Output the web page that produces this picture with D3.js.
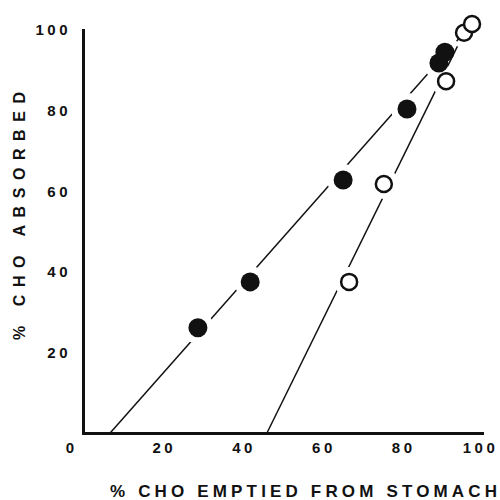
<!DOCTYPE html>
<html>
<head>
<meta charset="utf-8">
<script src="https://cdn.jsdelivr.net/npm/d3@7"></script>
<style>
  body { margin: 0; background: #fff; }
  svg { display: block; }
  text { font-family: "Liberation Sans", Arial, sans-serif; font-weight: bold; fill: #111; }
</style>
</head>
<body>
<svg id="chart" width="500" height="500"></svg>
<script>
// filled circles (upper line)
let filledX = [28.8, 41.9, 65.2, 81.2, 89.2, 90.7];
let filledY = [26.1, 37.5, 62.8, 80.4, 91.8, 94.5];

// open circles (lower line)
let openX = [66.7, 75.4, 91.0, 95.5, 97.5];
let openY = [37.5, 61.8, 87.3, 99.3, 101.5];

// fitted lines, start and end
let lineFilled = [[6.8, 0], [95.5, 99.3]];
let lineOpen = [[46.1, 0], [95.5, 99.3]];

let tickVals = [20, 40, 60, 80, 100];

let svg = d3.select("#chart");

let canvas = {
  "left": 83,
  "right": 482,
  "top": 30,
  "bottom": 433
};

let xScale = d3.scaleLinear().domain([0, 100]).range([canvas.left, canvas.right]);
let yScale = d3.scaleLinear().domain([0, 100]).range([canvas.bottom, canvas.top]);

let filled = filledX.map((d, i) => ({x: d, y: filledY[i]}));
let open = openX.map((d, i) => ({x: d, y: openY[i]}));

// masks so each line breaks around its own points
let defs = svg.append("defs");
function makeMask(id, pts, r) {
  let m = defs.append("mask").attr("id", id).attr("maskUnits", "userSpaceOnUse")
    .attr("x", 0).attr("y", 0).attr("width", 500).attr("height", 500);
  m.append("rect").attr("width", 500).attr("height", 500).attr("fill", "white");
  m.selectAll("circle").data(pts).join("circle")
    .attr("cx", d => xScale(d.x))
    .attr("cy", d => yScale(d.y))
    .attr("r", r)
    .attr("fill", "black");
}
makeMask("mask-filled", filled, 16);
makeMask("mask-open", open, 15);

let line = d3.line().x(d => xScale(d[0])).y(d => yScale(d[1]));

svg.append("path")
  .attr("d", line(lineFilled))
  .attr("fill", "none")
  .attr("stroke", "#111")
  .attr("stroke-width", 1.5)
  .attr("mask", "url(#mask-filled)");

svg.append("path")
  .attr("d", line(lineOpen))
  .attr("fill", "none")
  .attr("stroke", "#111")
  .attr("stroke-width", 1.5)
  .attr("mask", "url(#mask-open)");

// axes
let xAxis = d3.axisBottom(xScale).tickValues(tickVals).tickSize(0).tickSizeOuter(0).tickPadding(9);
let gx = svg.append("g")
  .attr("transform", `translate(0, ${canvas.bottom})`)
  .call(xAxis);

let yAxis = d3.axisLeft(yScale).tickValues(tickVals).tickSize(0).tickSizeOuter(0).tickPadding(12);
let gy = svg.append("g")
  .attr("transform", `translate(${canvas.left}, 0)`)
  .call(yAxis);

[gx, gy].forEach(g => {
  g.select(".domain").attr("stroke", "#111").attr("stroke-width", 3).attr("stroke-linecap", "square");
  g.selectAll(".tick text")
    .attr("font-size", 15)
    .attr("font-family", null)
    .attr("fill", "#111")
    .style("letter-spacing", "3.5px");
});
gx.selectAll(".tick text").attr("dx", d => d == 100 ? "-2px" : "1px");

svg.append("text")
  .attr("x", 70)
  .attr("y", 453)
  .attr("text-anchor", "middle")
  .attr("font-size", 15)
  .text("0");

// points
svg.selectAll(".filled")
  .data(filled)
  .join("circle")
  .attr("class", "filled")
  .attr("cx", d => xScale(d.x))
  .attr("cy", d => yScale(d.y))
  .attr("r", 9.5)
  .attr("fill", "#111");

svg.selectAll(".open")
  .data(open)
  .join("circle")
  .attr("class", "open")
  .attr("cx", d => xScale(d.x))
  .attr("cy", d => yScale(d.y))
  .attr("r", 8)
  .attr("fill", "white")
  .attr("stroke", "#111")
  .attr("stroke-width", 2.5);

// titles
svg.append("text")
  .attr("x", 110)
  .attr("y", 497)
  .attr("font-size", 17)
  .attr("textLength", 387)
  .attr("lengthAdjust", "spacing")
  .text("% CHO EMPTIED FROM STOMACH");

svg.append("text")
  .attr("transform", "translate(25, 340) rotate(-90)")
  .attr("x", 0)
  .attr("y", 0)
  .attr("font-size", 16)
  .attr("textLength", 248)
  .attr("lengthAdjust", "spacing")
  .text("% CHO  ABSORBED");
</script>
</body>
</html>
